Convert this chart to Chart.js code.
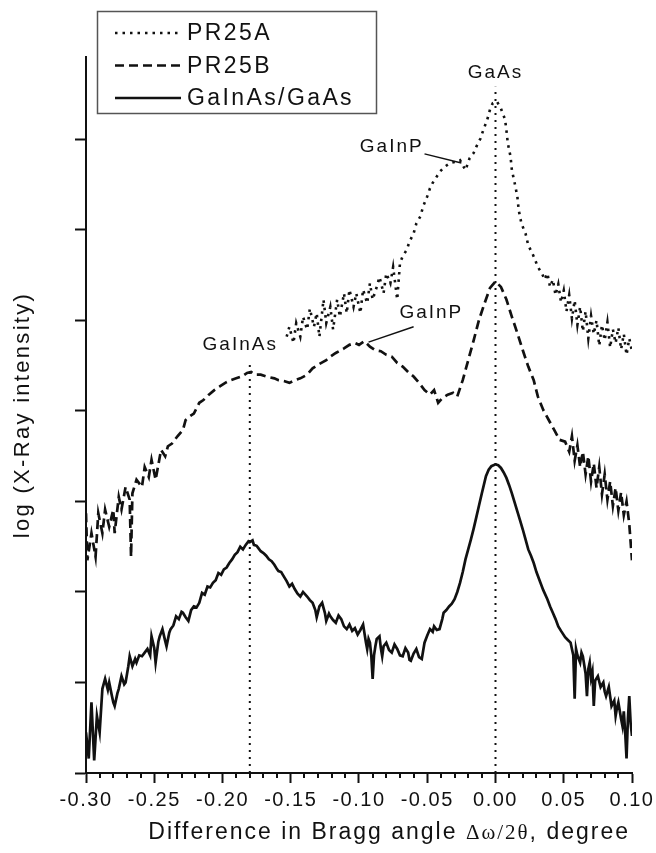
<!DOCTYPE html>
<html>
<head>
<meta charset="utf-8">
<script src="https://cdn.jsdelivr.net/npm/chart.js@4.4.1/dist/chart.umd.min.js"></script>
<style>
  html, body { margin: 0; padding: 0; background: #fff; }
</style>
</head>
<body>
<canvas id="xrd" width="656" height="853"></canvas>
<script>
const FONT = "'Liberation Sans', Arial, sans-serif";
const SERIF = "'Liberation Serif', 'DejaVu Serif', serif";
const INK = '#111';

// Bragg angle offsets (degree) and log intensity (in axis tick units)
const pr25aX = [-0.153,-0.151,-0.148,-0.146,-0.143,-0.141,-0.138,-0.136,-0.133,-0.131,
  -0.129,-0.126,-0.124,-0.121,-0.119,-0.116,-0.114,-0.111,-0.109,-0.107,
  -0.104,-0.102,-0.099,-0.097,-0.094,-0.092,-0.090,-0.087,-0.085,-0.082,
  -0.080,-0.077,-0.075,-0.072,-0.070,-0.068,-0.065,-0.063,-0.060,-0.058,
  -0.055,-0.053,-0.050,-0.048,-0.046,-0.043,-0.041,-0.037,-0.033,-0.030,
  -0.026,-0.022,-0.019,-0.016,-0.014,-0.011,-0.009,-0.006,-0.004,-0.002,
  0.001,0.004,0.007,0.008,0.009,0.011,0.012,0.014,0.016,0.017,
  0.019,0.022,0.024,0.027,0.029,0.031,0.034,
  0.036,0.038,0.040,0.042,0.044,0.046,0.048,0.050,0.052,0.054,
  0.056,0.058,0.060,0.062,0.064,0.066,0.068,0.070,0.072,0.074,
  0.076,0.078,0.080,0.082,0.084,0.086,0.088,0.090,0.092,0.094,
  0.096,0.098,0.100];
const pr25aY = [4.82,4.93,4.75,4.97,4.82,5.04,4.90,5.13,4.93,5.08,
  4.82,5.23,4.97,5.15,4.90,5.23,5.04,5.30,5.08,5.34,
  5.15,5.30,5.08,5.34,5.19,5.41,5.23,5.37,5.48,5.30,
  5.52,5.41,5.59,5.23,5.63,5.71,5.78,5.87,5.96,6.07,
  6.15,6.26,6.37,6.46,6.52,6.59,6.64,6.70,6.74,6.75,
  6.77,6.66,6.79,6.85,6.92,7.01,7.10,7.22,7.33,7.40,
  7.42,7.34,7.22,7.10,6.96,6.81,6.66,6.52,6.37,6.22,
  6.07,5.96,5.83,5.74,5.67,5.59,5.52,
  5.45,5.52,5.37,5.45,5.28,5.40,5.20,5.33,5.10,5.28,
  5.02,5.22,4.95,5.15,4.88,5.10,4.80,5.05,4.85,5.00,
  4.72,4.95,4.78,4.98,4.70,4.90,4.75,4.92,4.68,4.85,
  4.62,4.80,4.66];

const pr25bX = [-0.300,-0.299,-0.296,-0.293,-0.291,-0.288,-0.286,-0.283,-0.280,-0.279,
  -0.276,-0.274,-0.271,-0.268,-0.267,-0.266,-0.263,-0.259,-0.257,-0.254,
  -0.252,-0.249,-0.245,-0.242,-0.240,-0.237,-0.233,-0.229,-0.227,-0.224,
  -0.221,-0.217,-0.214,-0.210,-0.206,-0.202,-0.198,-0.194,-0.190,-0.186,
  -0.182,-0.179,-0.176,-0.172,-0.168,-0.162,-0.159,-0.155,-0.151,-0.147,
  -0.143,-0.138,-0.134,-0.130,-0.124,-0.121,-0.117,-0.111,-0.107,-0.103,
  -0.100,-0.096,-0.092,-0.088,-0.084,-0.080,-0.076,-0.072,-0.068,-0.064,
  -0.060,-0.056,-0.052,-0.048,-0.045,-0.042,-0.039,-0.035,-0.031,-0.028,
  -0.024,-0.020,-0.016,-0.012,-0.008,-0.004,0.000,0.004,0.008,0.012,
  0.016,0.020,0.024,0.028,0.031,0.035,0.039,0.043,0.047,
  0.051,0.054,0.056,0.058,0.060,0.062,0.064,0.066,0.068,0.070,
  0.072,0.074,0.076,0.078,0.080,0.082,0.084,0.086,0.088,0.090,
  0.092,0.094,0.096,0.098,0.099,0.100];
const pr25bY = [2.87,2.35,2.65,2.39,2.87,2.65,2.91,2.72,2.91,2.65,
  3.05,2.91,3.16,3.02,2.39,3.09,3.24,3.16,3.38,3.27,
  3.46,3.24,3.57,3.50,3.61,3.64,3.72,3.79,3.90,3.94,
  3.97,4.09,4.12,4.18,4.23,4.27,4.31,4.34,4.36,4.38,
  4.42,4.43,4.40,4.40,4.38,4.36,4.34,4.33,4.31,4.34,
  4.36,4.40,4.47,4.51,4.56,4.60,4.64,4.69,4.73,4.75,
  4.73,4.77,4.71,4.67,4.66,4.62,4.60,4.53,4.49,4.43,
  4.38,4.31,4.23,4.18,4.23,4.09,4.14,4.18,4.20,4.16,
  4.34,4.56,4.78,5.01,5.19,5.36,5.43,5.37,5.23,5.04,
  4.86,4.67,4.49,4.34,4.16,4.01,3.90,3.79,3.68,
  3.66,3.55,3.72,3.45,3.62,3.38,3.55,3.30,3.50,3.22,
  3.42,3.15,3.38,3.08,3.30,3.02,3.22,2.95,3.15,2.90,
  3.10,2.85,3.00,2.75,2.55,2.35];

const gaInAsX = [-0.300,-0.298,-0.296,-0.294,-0.292,-0.290,-0.288,-0.286,-0.284,-0.283,
  -0.281,-0.280,-0.279,-0.277,-0.276,-0.274,-0.272,-0.271,-0.269,-0.268,
  -0.266,-0.264,-0.263,-0.261,-0.259,-0.257,-0.255,-0.253,-0.252,-0.250,
  -0.249,-0.247,-0.246,-0.244,-0.242,-0.241,-0.239,-0.238,-0.236,-0.234,
  -0.232,-0.230,-0.229,-0.227,-0.225,-0.223,-0.221,-0.219,-0.217,-0.215,
  -0.213,-0.211,-0.209,-0.207,-0.205,-0.203,-0.201,-0.199,-0.197,-0.195,
  -0.193,-0.191,-0.189,-0.187,-0.185,-0.183,-0.181,-0.180,-0.178,-0.177,
  -0.175,-0.174,-0.172,-0.170,-0.168,-0.166,-0.164,-0.162,-0.160,-0.159,
  -0.157,-0.155,-0.153,-0.151,-0.149,-0.147,-0.145,-0.143,-0.141,-0.138,
  -0.136,-0.134,-0.132,-0.131,-0.129,-0.127,-0.125,-0.124,-0.122,-0.121,
  -0.119,-0.117,-0.115,-0.113,-0.111,-0.109,-0.107,-0.105,-0.103,-0.101,
  -0.099,-0.097,-0.095,-0.094,-0.093,-0.092,-0.091,-0.090,-0.089,-0.088,
  -0.087,-0.085,-0.084,-0.083,-0.082,-0.080,-0.078,-0.076,-0.074,-0.072,
  -0.070,-0.068,-0.066,-0.064,-0.063,-0.062,-0.060,-0.058,-0.056,-0.054,
  -0.053,-0.052,-0.050,-0.048,-0.046,-0.045,-0.043,-0.041,-0.039,-0.038,
  -0.036,-0.034,-0.032,-0.030,-0.028,-0.026,-0.024,-0.022,-0.020,-0.018,
  -0.016,-0.014,-0.012,-0.010,-0.007,-0.005,-0.003,0.000,0.002,0.004,
  0.006,0.008,0.010,0.012,0.014,0.016,0.018,0.020,0.022,0.024,
  0.026,0.028,0.030,0.033,0.035,0.038,0.040,0.042,0.044,0.046,
  0.048,0.051,0.053,0.055,0.057,0.058,0.059,0.060,0.062,0.063,
  0.064,0.066,0.067,0.068,0.069,0.070,0.071,0.072,0.073,0.075,
  0.077,0.079,0.080,0.081,0.083,0.085,0.087,0.088,0.089,0.090,
  0.092,0.093,0.094,0.095,0.096,0.097,0.098,0.099,0.100];
const gaInAsY = [0.45,0.16,0.78,0.14,0.63,0.45,0.93,1.04,0.92,1.00,
  0.85,0.78,0.74,0.88,0.93,1.07,0.98,1.00,1.18,1.29,
  1.18,1.26,1.22,1.30,1.29,1.33,1.37,1.30,1.51,1.38,
  1.22,1.45,1.51,1.59,1.46,1.40,1.55,1.59,1.63,1.73,
  1.70,1.78,1.77,1.72,1.68,1.80,1.84,1.83,1.88,1.99,
  1.97,2.06,2.05,2.10,2.13,2.21,2.19,2.25,2.27,2.32,
  2.36,2.41,2.44,2.50,2.47,2.52,2.56,2.55,2.57,2.52,
  2.51,2.49,2.45,2.43,2.40,2.36,2.34,2.30,2.25,2.23,
  2.22,2.17,2.12,2.06,2.09,2.03,1.98,1.95,2.00,1.95,
  1.91,1.88,1.80,1.72,1.84,1.88,1.77,1.68,1.76,1.73,
  1.69,1.66,1.74,1.70,1.62,1.59,1.64,1.57,1.60,1.53,
  1.58,1.64,1.45,1.37,1.48,1.44,1.30,1.04,1.30,1.40,
  1.48,1.51,1.38,1.29,1.40,1.44,1.36,1.33,1.42,1.37,
  1.30,1.29,1.38,1.33,1.25,1.24,1.32,1.37,1.28,1.26,
  1.35,1.44,1.52,1.59,1.56,1.62,1.58,1.59,1.70,1.77,
  1.80,1.84,1.87,1.92,2.00,2.10,2.22,2.36,2.47,2.58,
  2.70,2.83,2.96,3.09,3.28,3.35,3.39,3.41,3.40,3.37,
  3.32,3.26,3.18,3.09,2.99,2.89,2.79,2.69,2.58,2.47,
  2.40,2.32,2.22,2.10,2.02,1.92,1.84,1.77,1.70,1.62,
  1.57,1.50,1.47,1.44,1.30,0.82,1.37,1.30,1.22,1.33,
  1.29,1.10,0.85,1.15,1.22,1.05,1.12,0.74,1.02,1.07,
  0.95,1.00,0.90,0.85,0.95,0.74,0.80,0.63,0.72,0.78,
  0.60,0.52,0.68,0.45,0.16,0.60,0.85,0.55,0.41];

const seriesNames = ['PR25A', 'PR25B', 'GaInAs/GaAs'];
const seriesDash = [[2.5, 5], [9, 5], []];

// dotted guide lines at the GaInAs and GaAs peaks
const guideX = [-0.18, 0.0];
const guideTop = [4.54, 7.58];

// peak labels, anchored in data units
const peakText = ['GaAs', 'GaInP', 'GaInP', 'GaInAs'];
const peakAtX = [0.0, -0.076, -0.047, -0.187];
const peakAtY = [7.74, 6.92, 5.08, 4.73];

// leader lines from the GaInP labels to their shoulders
const leaderFromX = [-0.052, -0.060];
const leaderFromY = [6.84, 4.93];
const leaderToX = [-0.025, -0.093];
const leaderToY = [6.74, 4.76];

const toPoints = (xs, ys) => xs.map((x, i) => ({ x: x, y: ys[i] }));

const datasets = [
  { label: seriesNames[0], data: toPoints(pr25aX, pr25aY), borderDash: seriesDash[0], borderWidth: 2.6 },
  { label: seriesNames[1], data: toPoints(pr25bX, pr25bY), borderDash: seriesDash[1], borderWidth: 2.7 },
  { label: seriesNames[2], data: toPoints(gaInAsX, gaInAsY), borderDash: seriesDash[2], borderWidth: 2.7 }
];
guideX.forEach((gx, i) => {
  datasets.push({ label: 'guide', data: [{ x: gx, y: 0 }, { x: gx, y: guideTop[i] }], borderDash: [2, 5], borderWidth: 2 });
});
datasets.forEach(d => {
  d.borderColor = INK;
  d.pointRadius = 0;
  d.fill = false;
  d.tension = 0;
});

function spaced(ctx, px) {
  if ('letterSpacing' in ctx) ctx.letterSpacing = px + 'px';
}

const decorPlugin = {
  id: 'decor',
  beforeLayout(chart) { spaced(chart.ctx, 1.5); },
  beforeDraw(chart) { spaced(chart.ctx, 1.5); },
  afterDraw(chart) {
    const ctx = chart.ctx;
    const xs = chart.scales.x, ys = chart.scales.y;
    const area = chart.chartArea;
    ctx.save();
    ctx.setLineDash([]);
    ctx.strokeStyle = INK;
    ctx.fillStyle = INK;

    // minor ticks every 0.01
    ctx.lineWidth = 2;
    for (let k = -30; k <= 10; k++) {
      if (k % 5 === 0) continue;
      const px = Math.round(xs.getPixelForValue(k / 100));
      ctx.beginPath();
      ctx.moveTo(px, area.bottom);
      ctx.lineTo(px, area.bottom + 5);
      ctx.stroke();
    }

    // peak labels
    ctx.font = '19px ' + FONT;
    spaced(ctx, 2);
    ctx.textAlign = 'center';
    ctx.textBaseline = 'middle';
    peakText.forEach((t, i) => {
      ctx.fillText(t, xs.getPixelForValue(peakAtX[i]), ys.getPixelForValue(peakAtY[i]));
    });
    ctx.lineWidth = 1.5;
    leaderFromX.forEach((fx, i) => {
      ctx.beginPath();
      ctx.moveTo(xs.getPixelForValue(fx), ys.getPixelForValue(leaderFromY[i]));
      ctx.lineTo(xs.getPixelForValue(leaderToX[i]), ys.getPixelForValue(leaderToY[i]));
      ctx.stroke();
    });

    // axis titles
    ctx.textAlign = 'left';
    ctx.textBaseline = 'alphabetic';
    spaced(ctx, 2);
    const parts = [
      ['Difference in Bragg angle ', '23px ' + FONT],
      ['\u0394\u03c9/2\u03b8', '21px ' + SERIF],
      [', degree', '23px ' + FONT]
    ];
    let total = 0;
    parts.forEach(p => { ctx.font = p[1]; total += ctx.measureText(p[0]).width; });
    let tx = xs.right - 2 - total;
    parts.forEach(p => {
      ctx.font = p[1];
      ctx.fillText(p[0], tx, 839);
      tx += ctx.measureText(p[0]).width;
    });

    ctx.save();
    ctx.translate(23, (area.top + area.bottom) / 2);
    ctx.rotate(-Math.PI / 2);
    ctx.font = '22px ' + FONT;
    spaced(ctx, 2.3);
    ctx.textAlign = 'center';
    ctx.textBaseline = 'middle';
    ctx.fillText('log (X-Ray intensity)', 0, 0);
    ctx.restore();

    // legend box
    ctx.lineWidth = 1.5;
    ctx.strokeStyle = '#555';
    ctx.strokeRect(97.5, 11.5, 279, 102);
    ctx.strokeStyle = INK;
    ctx.font = '23px ' + FONT;
    spaced(ctx, 2.4);
    ctx.textAlign = 'left';
    ctx.textBaseline = 'middle';
    seriesNames.forEach((name, i) => {
      const ry = 33 + i * 32.5;
      const ds = chart.data.datasets[i];
      ctx.lineWidth = Math.min(ds.borderWidth, 2.4);
      ctx.setLineDash(ds.borderDash);
      ctx.beginPath();
      ctx.moveTo(115, ry);
      ctx.lineTo(181, ry);
      ctx.stroke();
      ctx.setLineDash([]);
      ctx.fillText(name, 187, ry + 1);
    });
    ctx.restore();
  }
};

new Chart(document.getElementById('xrd'), {
  type: 'line',
  data: { datasets: datasets },
  plugins: [decorPlugin],
  options: {
    responsive: false,
    animation: false,
    layout: { padding: { left: 86, right: 24, top: 57, bottom: 0 } },
    plugins: { legend: { display: false }, tooltip: { enabled: false } },
    scales: {
      x: {
        type: 'linear',
        min: -0.30,
        max: 0.10,
        afterFit: s => { s.height = 80; s.paddingLeft = 0; s.paddingRight = 0; },
        border: { display: true, color: INK, width: 2 },
        grid: { drawOnChartArea: false, drawTicks: true, tickLength: 10, tickColor: INK, tickWidth: 2 },
        ticks: {
          stepSize: 0.05,
          padding: 5,
          color: INK,
          maxRotation: 0,
          autoSkip: false,
          font: { family: FONT, size: 20 },
          callback: v => (Math.abs(v) < 1e-9 ? 0 : v).toFixed(2)
        }
      },
      y: {
        min: 0,
        max: 7.91,
        afterFit: s => { s.width = 0; },
        border: { display: true, color: INK, width: 2 },
        grid: { drawOnChartArea: false, drawTicks: true, tickLength: 11, tickColor: INK, tickWidth: 2 },
        ticks: { stepSize: 1, display: false, includeBounds: false }
      }
    }
  }
});
</script>
</body>
</html>
